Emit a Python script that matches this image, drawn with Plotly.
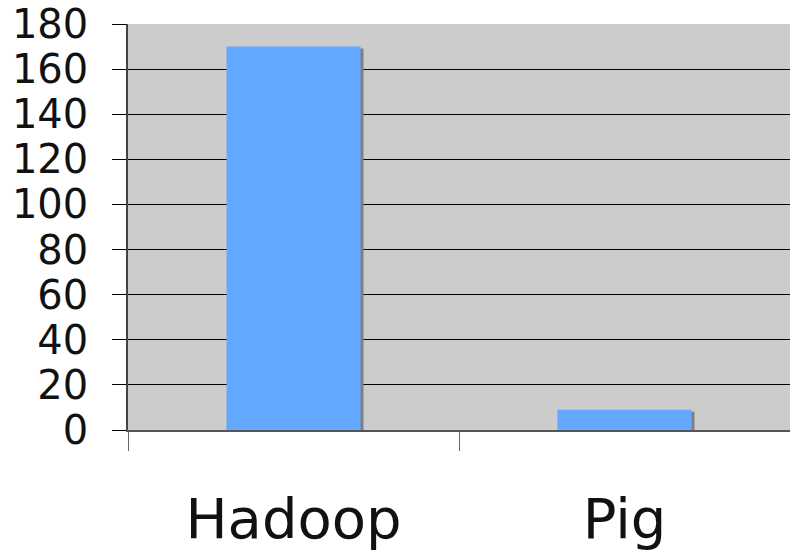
import plotly.graph_objects as go

categories = ["Hadoop", "Pig"]
values = [170, 9]
y_ticks = [0, 20, 40, 60, 80, 100, 120, 140, 160, 180]

bar_w = 0.405
shadow_drop = 0.9

fig = go.Figure()
# shadow
fig.add_trace(go.Bar(
    x=categories, y=[v - shadow_drop for v in values],
    width=bar_w, offset=-bar_w / 2 + 0.009,
    marker=dict(color="#808080", line=dict(width=0)),
    hoverinfo="skip", showlegend=False,
))
fig.add_trace(go.Bar(
    x=categories, y=values,
    width=bar_w, offset=-bar_w / 2,
    marker=dict(color="#63A8FF", line=dict(width=0)),
    showlegend=False,
))

fig.update_layout(
    width=790, height=551,
    margin=dict(l=128, r=0, t=24, b=121),
    paper_bgcolor="white", plot_bgcolor="#CCCCCC",
    barmode="overlay",
    font=dict(family="DejaVu Sans", color="#111111"),
    xaxis=dict(
        type="category", tickson="boundaries",
        ticks="outside", ticklen=19, tickcolor="#666666", tickwidth=1,
        showline=True, linecolor="#555555", linewidth=1.5,
        showgrid=False, tickfont=dict(size=56, family="DejaVu Sans"),
        ticklabelstandoff=39,
    ),
    yaxis=dict(
        range=[0, 180], tickvals=y_ticks,
        ticks="outside", ticklen=14, tickcolor="black",
        showline=True, linecolor="#444444", linewidth=1.5,
        showgrid=True, gridcolor="black", gridwidth=1,
        zeroline=False,
        tickfont=dict(size=40, family="DejaVu Sans"),
        ticklabelstandoff=16,
    ),
)

fig.write_html("out.html")
